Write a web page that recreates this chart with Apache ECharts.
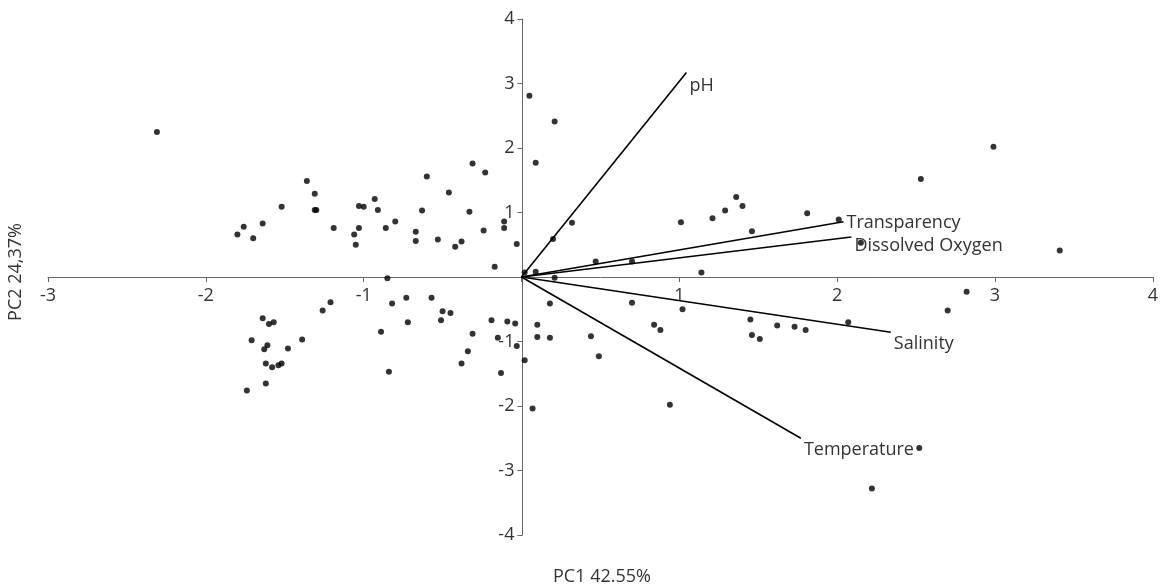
<!DOCTYPE html>
<html>
<head>
<meta charset="utf-8">
<script src="https://cdn.jsdelivr.net/npm/echarts@6/dist/echarts.min.js"></script>
<style>
  html, body { margin: 0; padding: 0; background: #fff; }
  #chart { width: 1161px; height: 584px; }
</style>
</head>
<body>
<div id="chart"></div>
<script>
// PCA scores (PC1, PC2)
var pc1 = [
  -2.31, -1.36, -1.31, -1.31, -1.30, -1.52, -1.64, -1.76, -1.80, -1.70,
  -1.19, -1.06, -1.05, -1.03, -1.03, -1.00, -0.93, -0.91, -0.86, -0.80,
  -0.85, -0.67, -0.67, -0.63, -0.60, -0.53, -0.46, -0.42, -0.38, -0.33,
  -0.31, -0.23, -0.24, -0.17, -0.11, -0.11, -0.03,
  0.05, 0.21, 0.09, 0.20, 0.32, 0.02, 0.09, 0.21, 0.47, 0.70,
  1.01, 1.21, 1.29, 1.36, 1.40, 1.46, 1.14, 2.01, 1.81, 2.15,
  2.53, 2.99, 3.41,
  0.70, 1.02, 0.84, 0.88, 0.44, 0.49, 0.94, 1.45, 1.46, 1.51,
  1.62, 1.73, 1.80, 2.07, 2.70, 2.82, 2.52, 2.22,
  -0.82, -0.73, -0.57, -0.72, -0.89, -0.84, -0.50, -0.51, -0.45, -0.31,
  -0.34, -0.38, -0.19, -0.15, -0.13, -0.09, -0.04, -0.03, 0.02, 0.07,
  0.10, 0.10, 0.18, 0.18,
  -1.21, -1.26, -1.64, -1.60, -1.57, -1.71, -1.39, -1.63, -1.61, -1.48,
  -1.62, -1.58, -1.54, -1.52, -1.74, -1.62
];
var pc2 = [
  2.25, 1.49, 1.29, 1.04, 1.04, 1.09, 0.83, 0.78, 0.66, 0.60,
  0.76, 0.66, 0.50, 0.76, 1.10, 1.09, 1.21, 1.04, 0.76, 0.86,
  -0.02, 0.70, 0.56, 1.03, 1.56, 0.58, 1.31, 0.47, 0.55, 1.01,
  1.76, 1.62, 0.72, 0.16, 0.86, 0.76, 0.51,
  2.81, 2.41, 1.77, 0.59, 0.84, 0.07, 0.08, -0.01, 0.24, 0.24,
  0.85, 0.91, 1.03, 1.24, 1.10, 0.71, 0.07, 0.89, 0.99, 0.53,
  1.52, 2.02, 0.41,
  -0.40, -0.50, -0.74, -0.82, -0.92, -1.23, -1.98, -0.66, -0.90, -0.96,
  -0.75, -0.77, -0.82, -0.70, -0.52, -0.23, -2.65, -3.28,
  -0.41, -0.32, -0.32, -0.70, -0.85, -1.47, -0.53, -0.67, -0.56, -0.88,
  -1.15, -1.34, -0.67, -0.94, -1.49, -0.69, -0.72, -1.07, -1.29, -2.04,
  -0.74, -0.93, -0.94, -0.41,
  -0.39, -0.52, -0.64, -0.73, -0.70, -0.98, -0.97, -1.12, -1.06, -1.11,
  -1.34, -1.40, -1.37, -1.34, -1.76, -1.65
];

// loading vectors
var varNames = ['pH', 'Transparency', 'Dissolved Oxygen', 'Salinity', 'Temperature'];
var loadX = [1.045, 2.04, 2.09, 2.34, 1.77];
var loadY = [3.17, 0.856, 0.62, -0.857, -2.50];
var labelDy = [13, 1, 9, 12, 12];  // label shift below the arrow tip, px

var xTicks = [-3, 4, 1];  // min, max, interval
var yTicks = [-4, 4, 1];

var FONT = '"Open Sans", "Noto Sans", sans-serif';
var TXT = '#333';
var AXIS = '#666';

// grid box
var G = { left: 48, right: 6, top: 19, bottom: 49 };
var W = 1161, H = 584;
var plotW = W - G.left - G.right, plotH = H - G.top - G.bottom;
// move the axes so they cross at (0,0)
var xAxisOffset = -plotH * (0 - yTicks[0]) / (yTicks[1] - yTicks[0]);
var yAxisOffset = -plotW * (0 - xTicks[0]) / (xTicks[1] - xTicks[0]);

var scores = pc1.map(function (v, i) { return [v, pc2[i]]; });

var series = [{
  type: 'scatter',
  data: scores,
  symbolSize: 6,
  itemStyle: { color: '#000' },
  z: 3
}];

varNames.forEach(function (name, i) {
  series.push({
    name: name,
    type: 'line',
    data: [[0, 0], [loadX[i], loadY[i]]],
    showSymbol: false,
    symbol: 'none',
    lineStyle: { color: '#000', width: 1.6 },
    endLabel: {
      show: true,
      formatter: '{a}',
      distance: 3,
      offset: [0, labelDy[i]],
      color: TXT,
      fontFamily: FONT,
      fontSize: 18
    },
    z: 2
  });
});

function hideZero(v) { return v === 0 ? '' : String(v); }

var chart = echarts.init(document.getElementById('chart'));
chart.setOption({
  animation: false,
  grid: G,
  xAxis: {
    type: 'value',
    position: 'bottom',
    offset: xAxisOffset,
    min: xTicks[0], max: xTicks[1], interval: xTicks[2],
    axisLine: { onZero: false, lineStyle: { color: AXIS, width: 1 } },
    axisTick: { show: true, length: 5, lineStyle: { color: AXIS } },
    splitLine: { show: false },
    axisLabel: { margin: 10, color: TXT, fontFamily: FONT, fontSize: 18, formatter: hideZero }
  },
  yAxis: {
    type: 'value',
    position: 'left',
    offset: yAxisOffset,
    min: yTicks[0], max: yTicks[1], interval: yTicks[2],
    axisLine: { onZero: false, lineStyle: { color: AXIS, width: 1 } },
    axisTick: { show: true, length: 5, lineStyle: { color: AXIS } },
    splitLine: { show: false },
    axisLabel: { margin: 8, color: TXT, fontFamily: FONT, fontSize: 18, formatter: hideZero }
  },
  graphic: [
    {
      type: 'text', x: 553, y: 577,
      style: { text: 'PC1 42.55%', fill: TXT, font: '18px ' + FONT, align: 'left', verticalAlign: 'middle' }
    },
    {
      type: 'text', x: 16, y: 272, rotation: Math.PI / 2,
      style: { text: 'PC2 24,37%', fill: TXT, font: '18px ' + FONT, align: 'center', verticalAlign: 'middle' }
    }
  ],
  series: series
});
</script>
</body>
</html>
